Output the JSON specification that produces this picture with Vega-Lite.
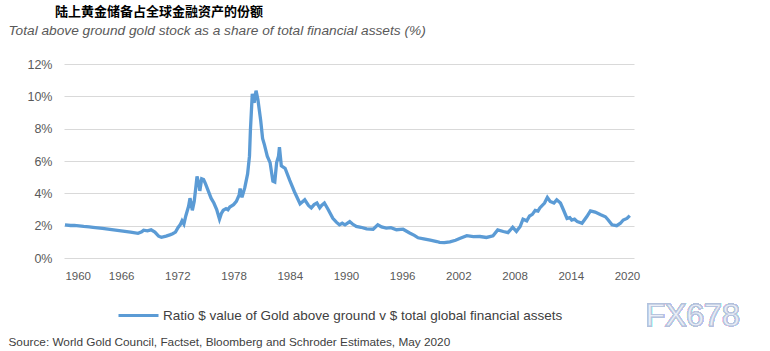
{
  "$schema": "https://vega.github.io/schema/vega-lite/v6.json",
  "width": 570,
  "height": 194,
  "autosize": {"type": "none"},
  "padding": {"left": 64, "top": 64, "right": 136, "bottom": 93},
  "background": "white",
  "title": {
    "text": "陆上黄金储备占全球金融资产的份额",
    "anchor": "start",
    "frame": "group",
    "dx": -9,
    "offset": 4,
    "font": "Noto Sans CJK SC",
    "fontSize": 13,
    "fontWeight": "bold",
    "color": "#000000"
  },
  "config": {
    "view": {"stroke": null},
    "axis": {"labelFont": "Liberation Sans", "titleFont": "Liberation Sans"}
  },
  "data": {
    "values": [
      {"year": 1960.0, "ratio": 2.05},
      {"year": 1960.6, "ratio": 2.01},
      {"year": 1961.0, "ratio": 2.02},
      {"year": 1962.0, "ratio": 1.95},
      {"year": 1962.6, "ratio": 1.93},
      {"year": 1963.0, "ratio": 1.9},
      {"year": 1964.0, "ratio": 1.83},
      {"year": 1965.0, "ratio": 1.75},
      {"year": 1966.0, "ratio": 1.68},
      {"year": 1967.0, "ratio": 1.6},
      {"year": 1967.8, "ratio": 1.53},
      {"year": 1968.2, "ratio": 1.62},
      {"year": 1968.4, "ratio": 1.72},
      {"year": 1968.8, "ratio": 1.68},
      {"year": 1969.2, "ratio": 1.74},
      {"year": 1969.6, "ratio": 1.6},
      {"year": 1970.0, "ratio": 1.35},
      {"year": 1970.3, "ratio": 1.28},
      {"year": 1970.8, "ratio": 1.35},
      {"year": 1971.2, "ratio": 1.43},
      {"year": 1971.5, "ratio": 1.5},
      {"year": 1971.8, "ratio": 1.6},
      {"year": 1972.1, "ratio": 1.9},
      {"year": 1972.3, "ratio": 2.05},
      {"year": 1972.5, "ratio": 2.3},
      {"year": 1972.7, "ratio": 2.1},
      {"year": 1972.9, "ratio": 2.6},
      {"year": 1973.2, "ratio": 3.2},
      {"year": 1973.35, "ratio": 3.7},
      {"year": 1973.6, "ratio": 2.95},
      {"year": 1973.8, "ratio": 3.5},
      {"year": 1974.0, "ratio": 4.5},
      {"year": 1974.1, "ratio": 5.05},
      {"year": 1974.3, "ratio": 4.6},
      {"year": 1974.4, "ratio": 4.15},
      {"year": 1974.6, "ratio": 4.9},
      {"year": 1974.8, "ratio": 4.85},
      {"year": 1975.0, "ratio": 4.6},
      {"year": 1975.3, "ratio": 4.15},
      {"year": 1975.6, "ratio": 3.7},
      {"year": 1975.9, "ratio": 3.4},
      {"year": 1976.2, "ratio": 3.0},
      {"year": 1976.5, "ratio": 2.4},
      {"year": 1976.7, "ratio": 2.75},
      {"year": 1976.9, "ratio": 2.95},
      {"year": 1977.2, "ratio": 3.05},
      {"year": 1977.4, "ratio": 2.98},
      {"year": 1977.6, "ratio": 3.15},
      {"year": 1978.0, "ratio": 3.3},
      {"year": 1978.3, "ratio": 3.5},
      {"year": 1978.6, "ratio": 3.9},
      {"year": 1978.7, "ratio": 4.3},
      {"year": 1978.9, "ratio": 3.75},
      {"year": 1979.2, "ratio": 4.35},
      {"year": 1979.5, "ratio": 5.2},
      {"year": 1979.7, "ratio": 6.3},
      {"year": 1979.8, "ratio": 7.9},
      {"year": 1980.0, "ratio": 10.15},
      {"year": 1980.2, "ratio": 9.6},
      {"year": 1980.4, "ratio": 10.35},
      {"year": 1980.6, "ratio": 9.8},
      {"year": 1980.9, "ratio": 8.5},
      {"year": 1981.1, "ratio": 7.4},
      {"year": 1981.3, "ratio": 7.0},
      {"year": 1981.6, "ratio": 6.3},
      {"year": 1981.9, "ratio": 5.9},
      {"year": 1982.2, "ratio": 4.75},
      {"year": 1982.4, "ratio": 4.7},
      {"year": 1982.6, "ratio": 5.9},
      {"year": 1982.8, "ratio": 6.3},
      {"year": 1982.9, "ratio": 6.85},
      {"year": 1983.1, "ratio": 5.7},
      {"year": 1983.5, "ratio": 5.55},
      {"year": 1984.0, "ratio": 4.8},
      {"year": 1984.5, "ratio": 4.1},
      {"year": 1984.9, "ratio": 3.6},
      {"year": 1985.1, "ratio": 3.35},
      {"year": 1985.3, "ratio": 3.45},
      {"year": 1985.6, "ratio": 3.6},
      {"year": 1986.0, "ratio": 3.25},
      {"year": 1986.3, "ratio": 3.1},
      {"year": 1986.6, "ratio": 3.3},
      {"year": 1986.9, "ratio": 3.4},
      {"year": 1987.2, "ratio": 3.1},
      {"year": 1987.4, "ratio": 3.25},
      {"year": 1987.7, "ratio": 3.4},
      {"year": 1988.1, "ratio": 3.0},
      {"year": 1988.6, "ratio": 2.45},
      {"year": 1989.0, "ratio": 2.2},
      {"year": 1989.3, "ratio": 2.05},
      {"year": 1989.6, "ratio": 2.15},
      {"year": 1989.9, "ratio": 2.05},
      {"year": 1990.4, "ratio": 2.25},
      {"year": 1990.7, "ratio": 2.1},
      {"year": 1991.1, "ratio": 1.95},
      {"year": 1991.6, "ratio": 1.9},
      {"year": 1992.2, "ratio": 1.8},
      {"year": 1992.9, "ratio": 1.78},
      {"year": 1993.4, "ratio": 2.05},
      {"year": 1993.8, "ratio": 1.92},
      {"year": 1994.3, "ratio": 1.85},
      {"year": 1994.8, "ratio": 1.88},
      {"year": 1995.4, "ratio": 1.75},
      {"year": 1996.1, "ratio": 1.78},
      {"year": 1996.8, "ratio": 1.55},
      {"year": 1997.3, "ratio": 1.4},
      {"year": 1997.7, "ratio": 1.25},
      {"year": 1998.3, "ratio": 1.18},
      {"year": 1999.0, "ratio": 1.1},
      {"year": 1999.7, "ratio": 1.02},
      {"year": 2000.0, "ratio": 0.97},
      {"year": 2000.5, "ratio": 0.95},
      {"year": 2001.1, "ratio": 1.0},
      {"year": 2001.7, "ratio": 1.1},
      {"year": 2002.2, "ratio": 1.22},
      {"year": 2002.9, "ratio": 1.38},
      {"year": 2003.6, "ratio": 1.32},
      {"year": 2004.3, "ratio": 1.33},
      {"year": 2005.0, "ratio": 1.27},
      {"year": 2005.7, "ratio": 1.37},
      {"year": 2006.2, "ratio": 1.74},
      {"year": 2006.8, "ratio": 1.64},
      {"year": 2007.3, "ratio": 1.57},
      {"year": 2007.8, "ratio": 1.9},
      {"year": 2008.2, "ratio": 1.65},
      {"year": 2008.6, "ratio": 1.95},
      {"year": 2008.9, "ratio": 2.4},
      {"year": 2009.3, "ratio": 2.3},
      {"year": 2009.6, "ratio": 2.6},
      {"year": 2009.9, "ratio": 2.7},
      {"year": 2010.2, "ratio": 2.95},
      {"year": 2010.5, "ratio": 2.9},
      {"year": 2010.7, "ratio": 3.1},
      {"year": 2011.2, "ratio": 3.4},
      {"year": 2011.5, "ratio": 3.75},
      {"year": 2011.8, "ratio": 3.5},
      {"year": 2012.2, "ratio": 3.4},
      {"year": 2012.5, "ratio": 3.6},
      {"year": 2012.9, "ratio": 3.4},
      {"year": 2013.2, "ratio": 3.0},
      {"year": 2013.6, "ratio": 2.45},
      {"year": 2013.9, "ratio": 2.5},
      {"year": 2014.1, "ratio": 2.35},
      {"year": 2014.4, "ratio": 2.4},
      {"year": 2014.7, "ratio": 2.25},
      {"year": 2015.2, "ratio": 2.15},
      {"year": 2015.7, "ratio": 2.55},
      {"year": 2016.1, "ratio": 2.92},
      {"year": 2016.6, "ratio": 2.84},
      {"year": 2017.2, "ratio": 2.67},
      {"year": 2017.7, "ratio": 2.55},
      {"year": 2018.0, "ratio": 2.35},
      {"year": 2018.4, "ratio": 2.05},
      {"year": 2018.9, "ratio": 2.0},
      {"year": 2019.3, "ratio": 2.15},
      {"year": 2019.6, "ratio": 2.35},
      {"year": 2020.0, "ratio": 2.45},
      {"year": 2020.3, "ratio": 2.62}
    ]
  },
  "layer": [
    {
      "mark": {"type": "line", "strokeWidth": 3.3, "interpolate": "linear"},
      "encoding": {
        "x": {
          "field": "year",
          "type": "quantitative",
          "scale": {"domain": [1959.9, 2020.75], "nice": false, "zero": false},
          "axis": {
            "values": [1960, 1966, 1972, 1978, 1984, 1990, 1996, 2002, 2008, 2014, 2020],
            "format": "d",
            "grid": false,
            "domain": false,
            "ticks": false,
            "labelOverlap": false,
            "labelPadding": 12,
            "labelFontSize": 11.5,
            "labelColor": "#595959",
            "title": "Source: World Gold Council, Factset, Bloomberg and Schroder Estimates, May 2020",
            "titleX": -56,
            "titleY": 83,
            "titleAlign": "left",
            "titleAnchor": null,
            "titleBaseline": "middle",
            "titleFontSize": 11.8,
            "titleFontWeight": "normal",
            "titleColor": "#404040"
          }
        },
        "y": {
          "field": "ratio",
          "type": "quantitative",
          "scale": {"domain": [0, 12], "nice": false},
          "axis": {
            "values": [0, 2, 4, 6, 8, 10, 12],
            "labelExpr": "datum.value + '%'",
            "labelOverlap": false,
            "grid": true,
            "gridColor": "#d9d9d9",
            "gridWidth": 1,
            "domain": false,
            "ticks": false,
            "labelPadding": 12,
            "labelFontSize": 12.5,
            "labelColor": "#595959",
            "title": "Total above ground gold stock as a share of total financial assets (%)",
            "titleAngle": 0,
            "titleX": -56,
            "titleY": -34,
            "titleAlign": "left",
            "titleAnchor": null,
            "titleBaseline": "middle",
            "titleFontSize": 13.7,
            "titleFontStyle": "italic",
            "titleFontWeight": "normal",
            "titleColor": "#595959"
          }
        },
        "color": {
          "datum": "Ratio $ value of Gold above ground v $ total global financial assets",
          "type": "nominal",
          "scale": {"range": ["#5b9bd5"]},
          "legend": {
            "title": null,
            "orient": "none",
            "legendX": 53,
            "legendY": 230,
            "symbolType": "stroke",
            "symbolSize": 1600,
            "symbolStrokeWidth": 3,
            "labelFont": "Liberation Sans",
            "labelFontSize": 13.5,
            "labelLimit": 0,
            "labelColor": "#404040",
            "labelOffset": 3,
            "padding": 0
          }
        }
      }
    },
    {
      "mark": {"type": "text", "font": "Liberation Sans", "fontSize": 32, "fill": "#eaeef6", "stroke": "#b3c1dc", "strokeWidth": 0.8, "align": "center", "baseline": "middle"},
      "encoding": {
        "x": {
          "datum": 2027.0,
          "type": "quantitative",
          "axis": {
            "values": [1960, 1966, 1972, 1978, 1984, 1990, 1996, 2002, 2008, 2014, 2020],
            "format": "d",
            "grid": false,
            "domain": false,
            "ticks": false,
            "labelOverlap": false,
            "labelPadding": 12,
            "labelFontSize": 11.5,
            "labelColor": "#595959",
            "title": "Source: World Gold Council, Factset, Bloomberg and Schroder Estimates, May 2020",
            "titleX": -56,
            "titleY": 83,
            "titleAlign": "left",
            "titleAnchor": null,
            "titleBaseline": "middle",
            "titleFontSize": 11.8,
            "titleFontWeight": "normal",
            "titleColor": "#404040"
          }
        },
        "y": {
          "datum": -3.6,
          "type": "quantitative",
          "axis": {
            "values": [0, 2, 4, 6, 8, 10, 12],
            "labelExpr": "datum.value + '%'",
            "labelOverlap": false,
            "grid": true,
            "gridColor": "#d9d9d9",
            "gridWidth": 1,
            "domain": false,
            "ticks": false,
            "labelPadding": 12,
            "labelFontSize": 12.5,
            "labelColor": "#595959",
            "title": "Total above ground gold stock as a share of total financial assets (%)",
            "titleAngle": 0,
            "titleX": -56,
            "titleY": -34,
            "titleAlign": "left",
            "titleAnchor": null,
            "titleBaseline": "middle",
            "titleFontSize": 13.7,
            "titleFontStyle": "italic",
            "titleFontWeight": "normal",
            "titleColor": "#595959"
          }
        },
        "text": {"value": "FX678"}
      }
    }
  ]
}
